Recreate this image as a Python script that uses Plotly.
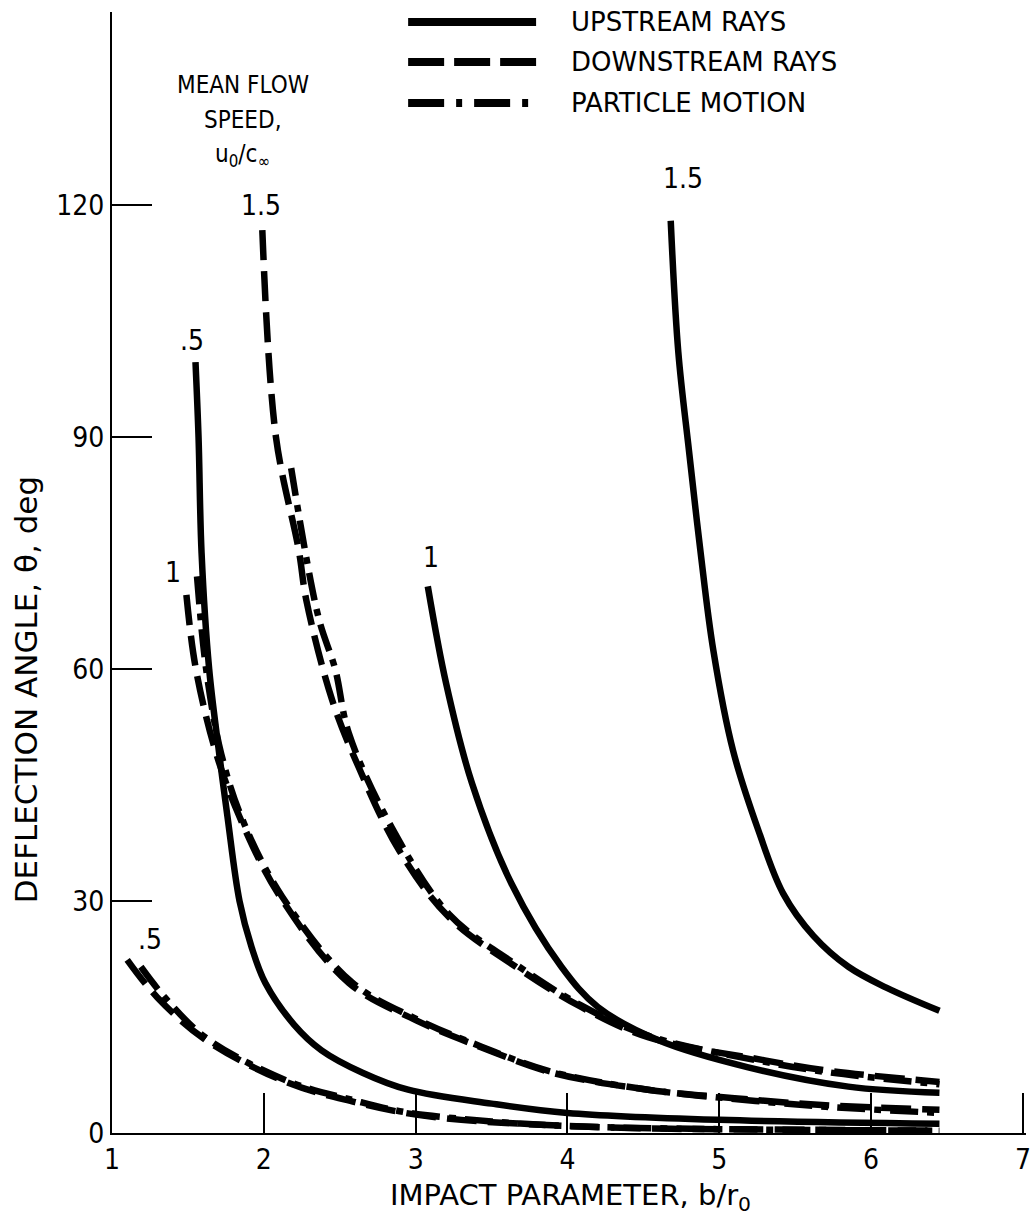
import plotly.graph_objects as go

# ---- data ----
x_up_05 = [1.55, 1.57, 1.59, 1.64, 1.70, 1.76, 1.84, 1.92, 2.01, 2.20, 2.38, 2.65, 2.95, 3.5, 4.0, 5.0, 6.45]
y_up_05 = [99.7, 90, 75, 60, 50, 41, 30, 24, 19.4, 14, 10.7, 7.8, 5.6, 3.8, 2.6, 1.7, 1.2]

x_up_1 = [3.08, 3.20, 3.37, 3.63, 3.96, 4.2, 4.6, 5.19, 5.85, 6.45]
y_up_1 = [70.7, 58.2, 45.3, 32.3, 21.5, 16.3, 12.0, 8.5, 6.0, 5.2]

x_up_15 = [4.68, 4.73, 4.80, 4.875, 4.96, 5.09, 5.26, 5.42, 5.62, 5.85, 6.1, 6.45]
y_up_15 = [118, 101, 88.3, 75.4, 62.5, 49.5, 39, 31, 25.5, 21.5, 18.8, 15.8]

x_dn_05 = [1.10, 1.30, 1.62, 2.16, 2.6, 2.93, 3.3, 3.9, 4.5, 5.0, 6.45]
y_dn_05 = [22.4, 17.5, 12.0, 6.5, 4.0, 2.6, 1.7, 1.0, 0.6, 0.5, 0.3]

x_dn_1 = [1.49, 1.55, 1.68, 1.84, 2.10, 2.56, 3.0, 3.43, 3.9, 4.53, 5.1, 5.7, 6.45]
y_dn_1 = [69.6, 60.3, 49.5, 40.9, 30.8, 19.4, 14.6, 11.1, 7.8, 5.6, 4.5, 3.6, 3.0]

x_dn_15 = [1.99, 2.08, 2.23, 2.28, 2.45, 2.625, 2.89, 3.22, 3.66, 4.09, 4.53, 5.30, 5.70, 6.45]
y_dn_15 = [116.8, 90, 75.4, 68.9, 56, 47.3, 36.6, 27.9, 21.5, 16.3, 12.4, 9.4, 8.1, 6.6]

x_pm_05 = [1.19, 1.35, 1.62, 2.16, 2.6, 2.93, 3.5, 4.0, 5.0, 6.45]
y_pm_05 = [21.5, 17.5, 12.3, 6.7, 4.2, 2.7, 1.5, 0.9, 0.5, 0.3]

x_pm_1 = [1.56, 1.62, 1.72, 1.86, 2.12, 2.58, 3.0, 3.43, 3.9, 4.53, 5.1, 5.7, 6.45]
y_pm_1 = [72, 60, 49, 40.5, 30.6, 19.5, 14.8, 11.2, 7.9, 5.6, 4.4, 3.4, 2.6]

x_pm_15 = [2.18, 2.36, 2.47, 2.56, 2.84, 3.22, 3.66, 4.09, 4.53, 5.30, 5.70, 6.45]
y_pm_15 = [86, 66.7, 60, 51.7, 39.6, 28.3, 21.8, 16.5, 12.6, 9.2, 7.9, 6.3]

x_ticks = [1, 2, 3, 4, 5, 6, 7]
y_ticks = [0, 30, 60, 90, 120]

series_names = ["UPSTREAM RAYS", "DOWNSTREAM RAYS", "PARTICLE MOTION"]

# curve labels: (text, x, y)
curve_labels = [(".5", 1.53, 102.5), ("1", 1.40, 72.5), ("1.5", 1.98, 120),
                (".5", 1.25, 25), ("1", 3.10, 74.5), ("1.5", 4.76, 123.5)]

FONT_C = "DejaVu Sans Condensed, DejaVu Sans, sans-serif"
FONT_W = "DejaVu Sans, sans-serif"
LW = 6.5
DASH = "30px,11px"
DASHDOT = "28px,9px,7px,9px"

fig = go.Figure()

def add(x, y, dash, name):
    fig.add_trace(go.Scatter(x=x, y=y, mode="lines", name=name, showlegend=False,
                             line=dict(color="black", width=LW, dash=dash, shape="spline", smoothing=1.0)))

add(x_up_05, y_up_05, "solid", "UPSTREAM RAYS 0.5")
add(x_up_1, y_up_1, "solid", "UPSTREAM RAYS 1")
add(x_up_15, y_up_15, "solid", "UPSTREAM RAYS 1.5")
add(x_dn_05, y_dn_05, DASH, "DOWNSTREAM RAYS 0.5")
add(x_dn_1, y_dn_1, DASH, "DOWNSTREAM RAYS 1")
add(x_dn_15, y_dn_15, DASH, "DOWNSTREAM RAYS 1.5")
add(x_pm_05, y_pm_05, DASHDOT, "PARTICLE MOTION 0.5")
add(x_pm_1, y_pm_1, DASHDOT, "PARTICLE MOTION 1")
add(x_pm_15, y_pm_15, DASHDOT, "PARTICLE MOTION 1.5")

annotations = []
for t, x, y in curve_labels:
    annotations.append(dict(x=x, y=y, xref="x", yref="y", text=t, showarrow=False,
                            font=dict(family=FONT_C, size=28, color="black")))

# header
for t, y in [("MEAN FLOW", 135.5), ("SPEED,", 131), ("u<sub>0</sub>/c<sub>∞</sub>", 126.4)]:
    annotations.append(dict(x=1.86, y=y, xref="x", yref="y", text=t, showarrow=False,
                            font=dict(family=FONT_C, size=24, color="black")))

# legend (drawn manually for long line samples)
shapes = []
leg_y = [0.991, 0.9554, 0.9188]
leg_dash = ["solid", "36px,10px", "36px,12px,6px,12px"]
for name, yy, d in zip(series_names, leg_y, leg_dash):
    shapes.append(dict(type="line", xref="paper", yref="paper", x0=0.324, x1=0.464, y0=yy, y1=yy,
                       line=dict(color="black", width=8, dash=d)))
    annotations.append(dict(x=0.500, y=yy, xref="paper", yref="paper", text=name, showarrow=False,
                            xanchor="left", yanchor="middle",
                            font=dict(family=FONT_W, size=26, color="black")))

# axis titles
annotations.append(dict(x=0.502, y=-0.057, xref="paper", yref="paper",
                        text="IMPACT PARAMETER, b/r<sub>0</sub>", showarrow=False,
                        xanchor="center", yanchor="middle",
                        font=dict(family=FONT_W, size=29, color="black")))
annotations.append(dict(x=-0.094, y=0.395, xref="paper", yref="paper",
                        text="DEFLECTION ANGLE, θ, deg", showarrow=False, textangle=-90,
                        xanchor="center", yanchor="middle",
                        font=dict(family=FONT_W, size=31, color="black")))

fig.update_layout(
    width=1033, height=1221,
    margin=dict(l=112, r=7, t=12, b=88, autoexpand=False),
    paper_bgcolor="white", plot_bgcolor="white",
    annotations=annotations, shapes=shapes,
    showlegend=False,
)
fig.update_xaxes(range=[1, 7.02], tickvals=x_ticks, ticktext=[str(v) for v in x_ticks],
                 ticks="inside", ticklen=40, tickwidth=2, tickcolor="black",
                 ticklabeloverflow="allow", automargin=False,
                 showline=True, linewidth=2, linecolor="black", showgrid=False, zeroline=False,
                 tickfont=dict(family=FONT_C, size=28, color="black"))
fig.update_yaxes(range=[0, 145], tickvals=y_ticks, ticktext=[str(v) for v in y_ticks],
                 ticks="inside", ticklen=40, tickwidth=2, tickcolor="black", automargin=False,
                 showline=True, linewidth=2, linecolor="black", showgrid=False, zeroline=False,
                 tickfont=dict(family=FONT_C, size=28, color="black"))

fig.write_html("out.html")
